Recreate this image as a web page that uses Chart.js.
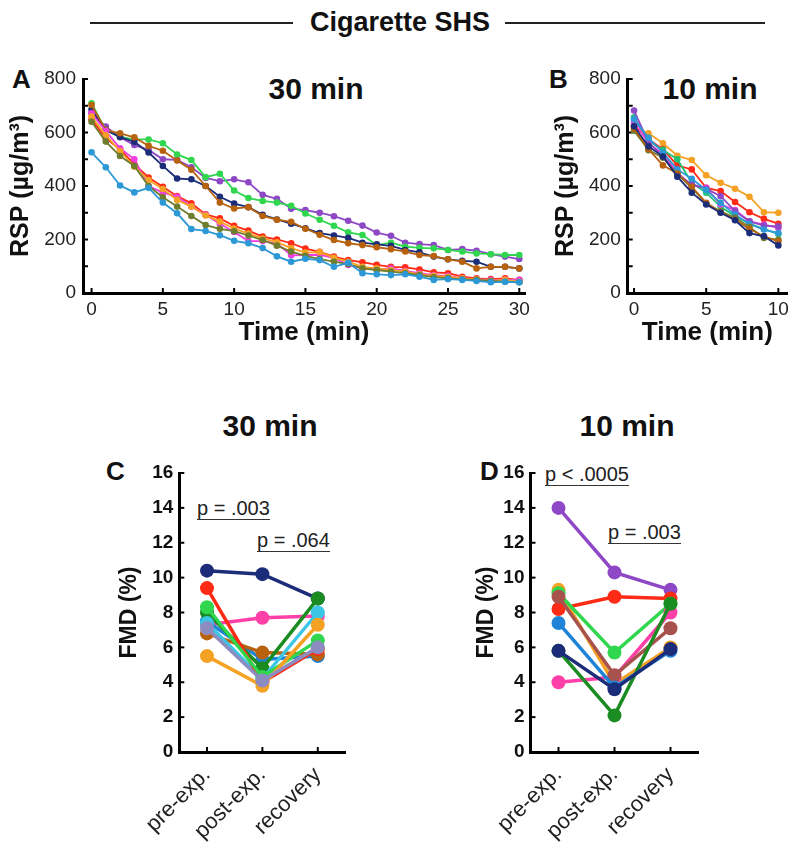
<!DOCTYPE html>
<html>
<head>
<meta charset="utf-8">
<script src="https://cdn.jsdelivr.net/npm/chart.js@4.4.1/dist/chart.umd.min.js"></script>
<style>
  html, body { margin:0; padding:0; background:#fff; }
  body { width:800px; height:852px; position:relative; overflow:hidden; font-family:'Liberation Sans', Arial, sans-serif; color:#111; }
  canvas { position:absolute; }
  .txt { position:absolute; white-space:nowrap; line-height:1; }
  .bold { font-weight:bold; }
  .hline { position:absolute; height:2px; background:#222; }
  .pval { position:absolute; font-size:20px; line-height:22px; border-bottom:1.5px solid #333; color:#222; white-space:nowrap; }
</style>
</head>
<body>
<div class="hline" style="left:90px; top:22px; width:203px;"></div>
<div class="hline" style="left:505px; top:22px; width:260px;"></div>
<div class="txt bold" style="left:400px; top:9px; transform:translateX(-50%); font-size:27px;">Cigarette SHS</div>

<div class="txt bold" style="left:12px; top:66px; font-size:26px;">A</div>
<div class="txt bold" style="left:316px; top:74px; transform:translateX(-50%); font-size:30px;">30 min</div>
<div class="txt bold" style="left:549px; top:66px; font-size:26px;">B</div>
<div class="txt bold" style="left:710px; top:74px; transform:translateX(-50%); font-size:30px;">10 min</div>

<div class="txt bold" style="left:270px; top:411px; transform:translateX(-50%); font-size:30px;">30 min</div>
<div class="txt bold" style="left:627px; top:411px; transform:translateX(-50%); font-size:30px;">10 min</div>
<div class="txt bold" style="left:106px; top:458px; font-size:26px;">C</div>
<div class="txt bold" style="left:480px; top:458px; font-size:26px;">D</div>

<div class="pval" style="left:197px; top:497px;">p = .003</div>
<div class="pval" style="left:257px; top:529px;">p = .064</div>
<div class="pval" style="left:545px; top:463px;">p &lt; .0005</div>
<div class="pval" style="left:608px; top:521px;">p = .003</div>

<canvas id="cA" width="545" height="290" style="left:0px; top:60px;"></canvas>
<canvas id="cB" width="260" height="290" style="left:540px; top:60px;"></canvas>
<canvas id="cC" width="400" height="412" style="left:0px; top:440px;"></canvas>
<canvas id="cD" width="400" height="412" style="left:400px; top:440px;"></canvas>

<script>
// ---------------- DATA ----------------
// Panel A: RSP (µg/m³) during 30-min cigarette SHS exposure, minutes 0..30
const timeA = [0,1,2,3,4,5,6,7,8,9,10,11,12,13,14,15,16,17,18,19,20,21,22,23,24,25,26,27,28,29,30];
const xTicksA = [0,5,10,15,20,25,30];
const rspA_purple    = [672,622,582,553,535,500,498,470,430,418,425,414,367,352,315,310,300,287,270,252,226,214,188,183,179,161,164,158,145,136,127];
const rspA_green     = [709,609,584,574,574,560,518,497,433,446,383,355,344,338,326,297,274,251,227,217,179,188,173,169,167,161,155,148,145,142,142];
const rspA_navy      = [686,609,583,565,525,475,428,425,400,360,334,321,292,275,259,242,224,215,206,188,182,176,161,152,136,126,120,117,98,98,92];
const rspA_brown     = [703,609,597,582,550,532,495,461,400,338,316,321,288,274,266,240,218,198,186,179,171,164,155,142,138,126,117,92,98,98,92];
const rspA_red       = [649,578,537,482,432,397,362,335,294,279,251,233,211,200,186,166,154,136,123,115,105,98,96,88,77,74,61,55,52,55,49];
const rspA_magenta   = [672,605,541,500,400,375,360,323,292,259,228,194,194,186,141,142,143,131,105,92,88,92,83,74,67,64,55,52,49,49,49];
const rspA_orange    = [660,590,530,472,422,389,348,323,290,267,241,222,204,190,168,151,153,132,117,98,92,86,80,70,64,61,55,51,46,49,42];
const rspA_olive     = [640,566,512,475,400,358,323,288,254,240,231,215,198,177,155,139,127,117,108,92,86,80,74,67,59,55,51,49,45,42,40];
const rspA_lightBlue = [526,470,402,376,393,338,298,239,232,216,195,186,168,137,117,128,123,98,113,74,70,67,70,61,49,52,49,45,40,42,40];

// Panel B: RSP during 10-min exposure, minutes 0..10
const timeB = [0,1,2,3,4,5,6,7,8,9,10];
const xTicksB = [0,5,10];
const rspB_orange    = [619,597,560,513,497,440,412,390,360,302,300];
const rspB_red       = [625,575,538,477,462,393,381,340,302,277,259];
const rspB_magenta   = [640,560,519,450,402,393,331,310,268,256,243];
const rspB_purple    = [682,563,510,444,406,390,362,306,268,252,249];
const rspB_lightBlue = [650,580,525,462,427,385,337,293,258,237,224];
const rspB_green     = [657,569,535,500,412,375,322,287,259,239,221];
const rspB_brown     = [615,538,477,447,397,337,302,274,239,212,193];
const rspB_olive     = [607,534,506,444,393,335,305,281,247,206,199];
const rspB_navy      = [623,548,510,435,375,331,300,272,224,212,178];
const yTicksRSP = [0,200,400,600,800];

// Panels C & D: FMD (%)
const phases = ['pre-exp.','post-exp.','recovery'];
const yTicksFMD = [0,2,4,6,8,10,12,14,16];
const fmdC_lavender  = [7.1, 4.1, 6.0];
const fmdC_orange    = [5.5, 3.8, 7.3];
const fmdC_green     = [8.3, 4.3, 6.4];
const fmdC_red       = [9.4, 4.0, 5.9];
const fmdC_cyan      = [7.4, 4.2, 8.0];
const fmdC_darkGreen = [8.0, 4.8, 8.8];
const fmdC_brown     = [6.8, 5.7, 5.6];
const fmdC_blue      = [7.5, 5.3, 5.5];
const fmdC_pink      = [7.3, 7.7, 7.8];
const fmdC_navy      = [10.4, 10.2, 8.8];

const fmdD_navy      = [5.8, 3.6, 5.9];
const fmdD_blue      = [7.4, 3.7, 5.8];
const fmdD_darkGreen = [5.8, 2.1, 8.5];
const fmdD_mauve     = [8.9, 4.4, 7.1];
const fmdD_pink      = [4.0, 4.3, 8.0];
const fmdD_green     = [9.1, 5.7, 8.5];
const fmdD_orange    = [9.3, 3.9, 6.0];
const fmdD_red       = [8.2, 8.9, 8.8];
const fmdD_purple    = [14.0, 10.3, 9.3];

// ---------------- STYLE ----------------
const COL = {
  purple:'#8e48c6', green:'#2fd64e', navy:'#1b2c78', brown:'#b8620e', red:'#ff2b17',
  magenta:'#ee3fe0', orange:'#f5a123', olive:'#6f7d2f', lightBlue:'#2d98d6',
  tealGreen:'#22c274', cyan:'#3cc6e6', darkGreen:'#1a8c22', pink:'#ff40a8',
  lavender:'#8c8cc0', blue:'#1f84d8', mauve:'#a8524e'
};
const FONT = "'Liberation Sans', Arial, sans-serif";

const inwardTicks = {
  id: 'inwardTicks',
  beforeDatasetsDraw(chart, args, o) {
    const {ctx, chartArea, scales} = chart;
    ctx.save();
    ctx.strokeStyle = '#000';
    ctx.lineWidth = o.width || 2;
    (o.yValues || []).forEach(v => {
      const p = scales.y.getPixelForValue(v);
      ctx.beginPath(); ctx.moveTo(chartArea.left, p); ctx.lineTo(chartArea.left + o.len, p); ctx.stroke();
    });
    (o.xValues || []).forEach(v => {
      const p = scales.x.getPixelForValue(v);
      ctx.beginPath(); ctx.moveTo(p, chartArea.bottom); ctx.lineTo(p, chartArea.bottom - o.len); ctx.stroke();
    });
    ctx.restore();
  }
};

function rspDataset(times, vals, color) {
  return {
    data: times.map((t, i) => ({x: t, y: vals[i]})),
    borderColor: color, backgroundColor: color,
    pointBackgroundColor: color, pointBorderColor: color,
    borderWidth: 1.8, pointRadius: 3.3, pointBorderWidth: 0, tension: 0
  };
}
function fmdDataset(vals, color) {
  return {
    data: vals, borderColor: color, backgroundColor: color,
    pointBackgroundColor: color, pointBorderColor: color,
    borderWidth: 3.5, pointRadius: 7, pointBorderWidth: 0, tension: 0
  };
}

function rspChart(id, times, sets, xmin, xmax, xticks, yW, xH, padRight, titlePad) {
  return new Chart(document.getElementById(id), {
    type: 'line',
    data: { datasets: sets },
    options: {
      responsive: false, animation: false, devicePixelRatio: 1,
      layout: { padding: { left: 0, top: 19, right: padRight, bottom: 0 } },
      plugins: { legend: { display: false }, tooltip: { enabled: false },
        inwardTicks: { yValues: [0,100,200,300,400,500,600,700,800], xValues: xticks, len: 5, width: 2 } },
      scales: {
        x: {
          type: 'linear', min: xmin, max: xmax,
          afterBuildTicks: s => { s.ticks = xticks.map(v => ({value: v})); },
          afterFit: s => { s.height = xH; s.paddingLeft = 0; s.paddingRight = 0; },
          grid: { display: false, drawTicks: false },
          border: { display: true, color: '#000', width: 3 },
          ticks: { color: '#222', font: { family: FONT, size: 19 }, padding: 5, maxRotation: 0 },
          title: { display: true, text: 'Time (min)', color: '#111', font: { family: FONT, size: 26, weight: 'bold' }, padding: { top: 0, bottom: 2 } }
        },
        y: {
          min: 0, max: 800,
          afterBuildTicks: s => { s.ticks = yTicksRSP.map(v => ({value: v})); },
          afterFit: s => { s.width = yW; s.paddingTop = 0; s.paddingBottom = 0; },
          grid: { display: false, drawTicks: false },
          border: { display: true, color: '#000', width: 3 },
          ticks: { color: '#222', font: { family: FONT, size: 19 }, padding: 7 },
          title: { display: true, text: 'RSP (µg/m³)', color: '#111', font: { family: FONT, size: 25, weight: 'bold' }, padding: { top: titlePad, bottom: 0 } }
        }
      }
    },
    plugins: [inwardTicks]
  });
}

function fmdChart(id, sets, yW, padRight, titlePad) {
  return new Chart(document.getElementById(id), {
    type: 'line',
    data: { labels: phases, datasets: sets },
    options: {
      responsive: false, animation: false, devicePixelRatio: 1,
      layout: { padding: { left: 0, top: 33, right: padRight, bottom: 0 } },
      plugins: { legend: { display: false }, tooltip: { enabled: false },
        inwardTicks: { yValues: yTicksFMD, xValues: [0,1,2], len: 5, width: 2 } },
      scales: {
        x: {
          type: 'category', offset: true,
          afterFit: s => { s.height = 100; s.paddingLeft = 0; s.paddingRight = 0; },
          grid: { display: false, drawTicks: false },
          border: { display: true, color: '#000', width: 3 },
          ticks: { color: '#222', font: { family: FONT, size: 22 }, padding: 10, minRotation: 45, maxRotation: 45 }
        },
        y: {
          min: 0, max: 16,
          afterBuildTicks: s => { s.ticks = yTicksFMD.map(v => ({value: v})); },
          afterFit: s => { s.width = yW; s.paddingTop = 0; s.paddingBottom = 0; },
          grid: { display: false, drawTicks: false },
          border: { display: true, color: '#000', width: 3 },
          ticks: { color: '#111', font: { family: FONT, size: 19, weight: 'bold' }, padding: 6 },
          title: { display: true, text: 'FMD (%)', color: '#111', font: { family: FONT, size: 23, weight: 'bold' }, padding: { top: titlePad, bottom: 0 } }
        }
      }
    },
    plugins: [inwardTicks]
  });
}

rspChart('cA', timeA, [
  rspDataset(timeA, rspA_lightBlue, COL.lightBlue),
  rspDataset(timeA, rspA_olive, COL.olive),
  rspDataset(timeA, rspA_orange, COL.orange),
  rspDataset(timeA, rspA_magenta, COL.magenta),
  rspDataset(timeA, rspA_red, COL.red),
  rspDataset(timeA, rspA_brown, COL.brown),
  rspDataset(timeA, rspA_navy, COL.navy),
  rspDataset(timeA, rspA_green, COL.green),
  rspDataset(timeA, rspA_purple, COL.purple)
], -0.6, 30.4, xTicksA, 83, 57, 20, 6);

rspChart('cB', timeB, [
  rspDataset(timeB, rspB_navy, COL.navy),
  rspDataset(timeB, rspB_brown, COL.brown),
  rspDataset(timeB, rspB_olive, COL.olive),
  rspDataset(timeB, rspB_lightBlue, COL.lightBlue),
  rspDataset(timeB, rspB_purple, COL.purple),
  rspDataset(timeB, rspB_magenta, COL.magenta),
  rspDataset(timeB, rspB_green, COL.tealGreen),
  rspDataset(timeB, rspB_red, COL.red),
  rspDataset(timeB, rspB_orange, COL.orange)
], -0.44, 10.6, xTicksB, 87.7, 57, 13, 11);

fmdChart('cC', [
  fmdDataset(fmdC_lavender, COL.lavender),
  fmdDataset(fmdC_orange, COL.orange),
  fmdDataset(fmdC_green, COL.green),
  fmdDataset(fmdC_red, COL.red),
  fmdDataset(fmdC_cyan, COL.cyan),
  fmdDataset(fmdC_darkGreen, COL.darkGreen),
  fmdDataset(fmdC_brown, COL.brown),
  fmdDataset(fmdC_blue, COL.blue),
  fmdDataset(fmdC_pink, COL.pink),
  fmdDataset(fmdC_navy, COL.navy)
], 179.3, 54.5, 116);

fmdChart('cD', [
  fmdDataset(fmdD_navy, COL.navy),
  fmdDataset(fmdD_blue, COL.blue),
  fmdDataset(fmdD_darkGreen, COL.darkGreen),
  fmdDataset(fmdD_mauve, COL.mauve),
  fmdDataset(fmdD_pink, COL.pink),
  fmdDataset(fmdD_green, COL.green),
  fmdDataset(fmdD_orange, COL.orange),
  fmdDataset(fmdD_red, COL.red),
  fmdDataset(fmdD_purple, COL.purple)
], 130.5, 101.5, 73);
</script>
</body>
</html>
